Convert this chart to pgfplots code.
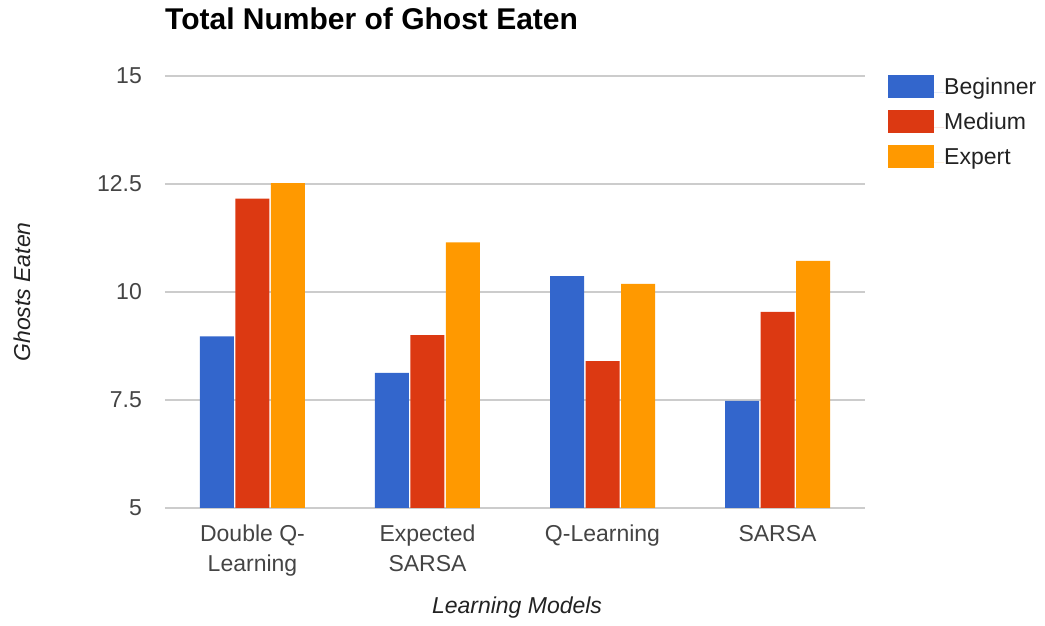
\documentclass[border=0pt]{standalone}
\usepackage{pgfplots}
\pgfplotsset{compat=1.18}
\usepackage{fontspec}
\setmainfont{Liberation Sans}
\definecolor{cBeg}{HTML}{3366CC}
\definecolor{cMed}{HTML}{DC3912}
\definecolor{cExp}{HTML}{FF9900}
\definecolor{gridc}{HTML}{CCCCCC}
\definecolor{txtc}{HTML}{444444}
\definecolor{labc}{HTML}{222222}
\begin{document}
\begin{tikzpicture}
\begin{axis}[
  scale only axis,
  width=700pt, height=432pt,
  ybar=1.5pt, bar width=34pt,
  xmin=-0.5, xmax=3.5,
  ymin=5, ymax=15,
  xtick={0,1,2,3},
  xticklabels={Double Q-\\Learning, Expected\\SARSA, Q-Learning, SARSA},
  ytick={5,7.5,10,12.5,15},
  yticklabels={5,7.5,10,12.5,15},
  major tick length=0pt,
  axis line style={draw=none},
  ymajorgrids,
  grid style={draw=gridc, line width=1.5pt},
  /pgf/number format/assume math mode=true,
  x tick label style={align=center, font=\fontsize{23}{30}\selectfont, text=txtc, anchor=north, inner sep=0pt, yshift=-17pt},
  y tick label style={font=\fontsize{23}{28}\selectfont, text=txtc, anchor=east, inner sep=0pt, xshift=-23pt},
  title={Total Number of Ghost Eaten},
  title style={at={(axis description cs:0,1.0949)}, anchor=base west, inner sep=0pt, font=\fontsize{30}{36}\selectfont\bfseries},
  xlabel={\itshape Learning Models},
  ylabel={\itshape Ghosts Eaten},
  xlabel style={at={(axis description cs:0.5029,-0.2315)}, anchor=center, font=\fontsize{23}{28}\selectfont, text=labc},
  ylabel style={at={(axis description cs:-0.2043,0.5)}, anchor=center, font=\fontsize{23}{28}\selectfont, text=labc},
  legend style={at={(axis description cs:1.0329,1.0023)}, anchor=north west, draw=none, fill=none, inner sep=0pt, row sep=9.5pt,
    font=\fontsize{23}{28}\selectfont, text=labc,
    nodes={inner sep=0pt, text height=17pt, text depth=6pt, yshift=3pt}},
  legend cell align=left,
  legend image code/.code={\fill[#1] (0pt,-6pt) rectangle (46pt,17pt); \path (0pt,0pt) -- (56pt,0pt);},
]
\addplot[fill=cBeg, draw=none] coordinates {(0,8.97) (1,8.13) (2,10.37) (3,7.48)};
\addplot[fill=cMed, draw=none] coordinates {(0,12.16) (1,9.0) (2,8.40) (3,9.54)};
\addplot[fill=cExp, draw=none] coordinates {(0,12.52) (1,11.15) (2,10.19) (3,10.72)};
\legend{Beginner, Medium, Expert}
\end{axis}
\path (-165pt,-118pt) rectangle ++(1045pt,626pt);
\end{tikzpicture}
\end{document}
